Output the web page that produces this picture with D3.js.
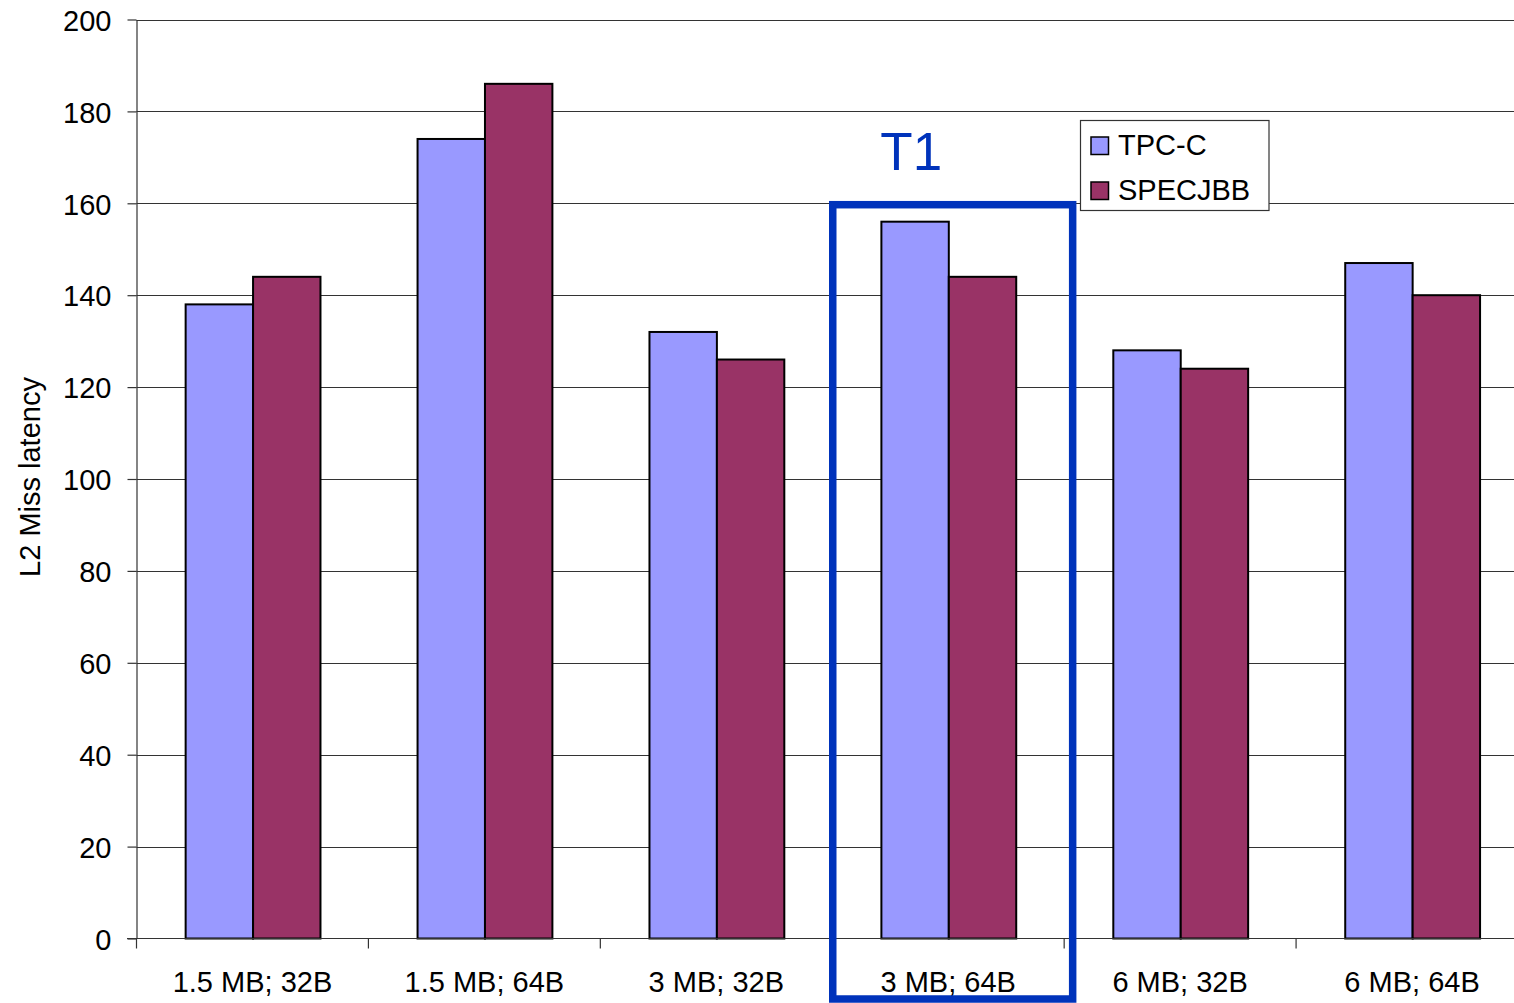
<!DOCTYPE html>
<html>
<head>
<meta charset="utf-8">
<script src="https://cdn.jsdelivr.net/npm/d3@7"></script>
<style>
html,body{margin:0;padding:0;background:#fff;overflow:hidden;}
svg{display:block;font-family:"Liberation Sans",Arial,sans-serif;}
</style>
</head>
<body>
<svg id="chart" width="1514" height="1003"></svg>
<script>
const categories = ["1.5 MB; 32B","1.5 MB; 64B","3 MB; 32B","3 MB; 64B","6 MB; 32B","6 MB; 64B"];
const seriesNames = ["TPC-C","SPECJBB"];
const tpcc = [138, 174, 132, 156, 128, 147];
const specjbb = [144, 186, 126, 144, 124, 140];
const yTicks = [0,20,40,60,80,100,120,140,160,180,200];
const colors = ["#9999ff","#993366"];
const highlightCategory = "3 MB; 64B";
const highlightLabel = "T1";
const yLabel = "L2 Miss latency";

const svg = d3.select("#chart");
const plotLeft = 136.5, plotRight = 1528, plotTop = 19.5, plotBottom = 938.5;

const x0 = d3.scaleBand().domain(categories).range([plotLeft, plotRight]).padding(0);
const x1 = d3.scaleBand().domain(seriesNames).range([0.6, x0.bandwidth()+0.6]).paddingInner(0).paddingOuter(0.72);
const y = d3.scaleLinear().domain([0,200]).range([plotBottom, plotTop]);

// gridlines
svg.append("g").selectAll("line").data(yTicks.filter(d=>d>0)).join("line")
  .attr("x1", plotLeft).attr("x2", 1514)
  .attr("y1", d=>Math.round(y(d))+0.5).attr("y2", d=>Math.round(y(d))+0.5)
  .attr("stroke", "#333").attr("stroke-width", 1.2);

// y axis
const yAxis = d3.axisLeft(y).tickValues(yTicks).tickSize(9).tickPadding(16).tickSizeOuter(0);
const gy = svg.append("g").attr("transform", `translate(${plotLeft},0)`).call(yAxis);
gy.select(".domain").attr("stroke","#333").attr("stroke-width",1.2);
gy.selectAll(".tick line").attr("stroke","#333").attr("stroke-width",1.2);
gy.selectAll("text").attr("font-size", 29).attr("fill","#000").attr("dy","0.37em")
  .attr("font-family","'Liberation Sans',Arial,sans-serif");

// bars
const data = categories.map((c,i)=>({cat:c, vals:[{s:seriesNames[0],v:tpcc[i]},{s:seriesNames[1],v:specjbb[i]}]}));
const groups = svg.append("g").selectAll("g").data(data).join("g")
  .attr("transform", d=>`translate(${x0(d.cat)},0)`);
groups.selectAll("rect").data(d=>d.vals).join("rect")
  .attr("x", d=>x1(d.s)).attr("width", x1.bandwidth())
  .attr("y", d=>y(d.v)).attr("height", d=>y(0)-y(d.v))
  .attr("fill", (d,i)=>colors[i]).attr("stroke","#000").attr("stroke-width",2);

// x axis
const xAxis = d3.axisBottom(x0).tickSize(0).tickPadding(0).tickSizeOuter(0);
const gx = svg.append("g").attr("transform", `translate(0,${plotBottom})`).call(xAxis);
gx.select(".domain").remove();
svg.append("line").attr("x1", 127).attr("x2", 1514).attr("y1", plotBottom).attr("y2", plotBottom)
  .attr("stroke","#333").attr("stroke-width",1.2);
gx.selectAll(".tick text").attr("font-size",29).attr("fill","#000").attr("y", 53).attr("dy",0)
  .attr("font-family","'Liberation Sans',Arial,sans-serif");
// category separator ticks
svg.append("g").selectAll("line").data(categories).join("line")
  .attr("x1", d=>x0(d)).attr("x2", d=>x0(d))
  .attr("y1", plotBottom).attr("y2", plotBottom+10)
  .attr("stroke","#333").attr("stroke-width",1.2);

// y label
svg.append("text").attr("transform","translate(40,477) rotate(-90)")
  .attr("text-anchor","middle").attr("font-size",29).attr("fill","#000").text(yLabel);

// highlight box
const hx = x0(highlightCategory);
svg.append("rect").attr("x", hx + 0.5).attr("y", 204.7)
  .attr("width", x0.bandwidth() + 8).attr("height", 999 - 204.7)
  .attr("fill","none").attr("stroke","#0033bb").attr("stroke-width",7.5);
svg.append("text").attr("x", hx + 79).attr("y",170)
  .attr("text-anchor","middle").attr("font-size",53).attr("fill","#0033bb").text(highlightLabel);

// legend
const lg = svg.append("g");
lg.append("rect").attr("x",1080.5).attr("y",120.5).attr("width",188.5).attr("height",90)
  .attr("fill","#fff").attr("stroke","#333").attr("stroke-width",1.2);
seriesNames.forEach((s,i)=>{
  lg.append("rect").attr("x",1091).attr("y",137 + i*45).attr("width",17.5).attr("height",17.5)
    .attr("fill",colors[i]).attr("stroke","#000").attr("stroke-width",1.5);
  lg.append("text").attr("x",1118).attr("y",154.5 + i*45).attr("font-size",29).attr("fill","#000").text(s);
});
</script>
</body>
</html>
